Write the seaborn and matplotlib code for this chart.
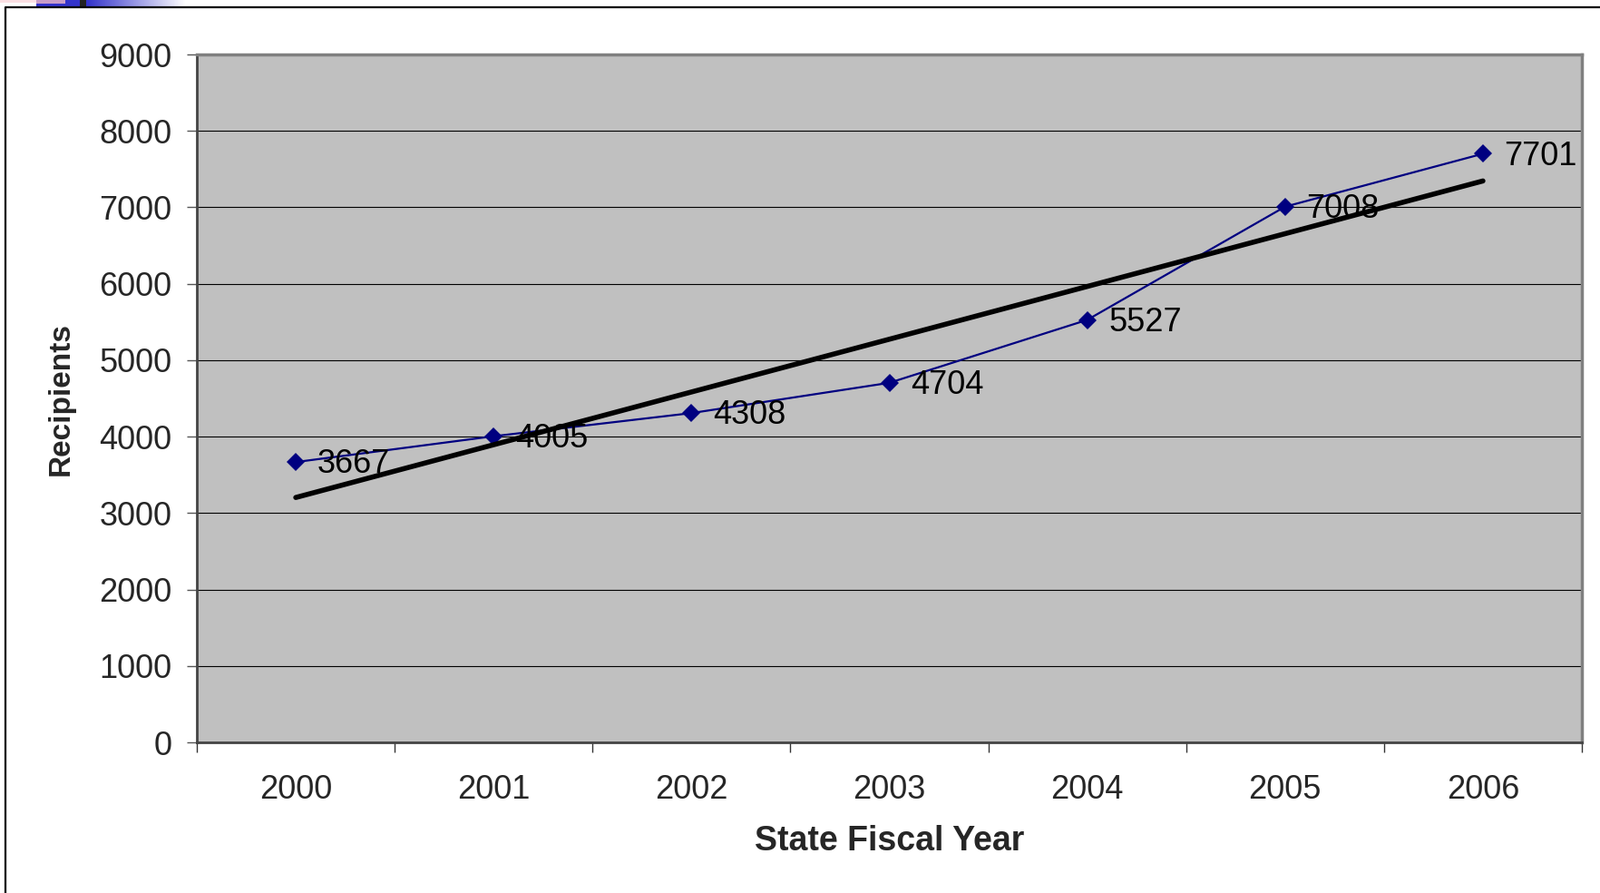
import matplotlib.pyplot as plt
import numpy as np
import pandas as pd
import seaborn as sns
from matplotlib.lines import Line2D
from matplotlib.patches import Rectangle

# chart data
years = [2000, 2001, 2002, 2003, 2004, 2005, 2006]
recipients = [3667, 4005, 4308, 4704, 5527, 7008, 7701]
y_ticks = [0, 1000, 2000, 3000, 4000, 5000, 6000, 7000, 8000, 9000]

df = pd.DataFrame({"year": years, "recipients": recipients})

sns.set_style("white")
plt.rcParams["font.family"] = ["Liberation Sans", "DejaVu Sans"]

fig = plt.figure(figsize=(17.64, 9.84), dpi=100)
ax = fig.add_axes([217 / 1764, 1 - 818 / 984, 1527 / 1764, 758 / 984])
ax.set_facecolor("#c0c0c0")

# gridlines
ax.set_yticks(y_ticks)
ax.yaxis.grid(True, color="black", linewidth=0.8)
ax.set_axisbelow(True)

# data series
sns.lineplot(data=df, x="year", y="recipients", ax=ax, color="#000080",
             linewidth=1.6, marker="D", markersize=10.5, markeredgewidth=0,
             zorder=3)

# linear trend line
sns.regplot(data=df, x="year", y="recipients", ax=ax, scatter=False, ci=None,
            line_kws={"color": "black", "linewidth": 4.0,
                      "solid_capstyle": "round", "zorder": 4})

for yr, val in zip(years, recipients):
    ax.annotate(str(val), (yr, val), xytext=(17, -2), textcoords="offset points",
                ha="left", va="center", fontsize=26, color="black", zorder=5)

ax.set_xlim(years[0] - 0.5, years[-1] + 0.5)
ax.set_ylim(y_ticks[0], y_ticks[-1])
ax.set_xticks(years)
ax.set_xticklabels([str(y) for y in years])
ax.set_xticks(np.arange(years[0] - 0.5, years[-1] + 1.0, 1.0), minor=True)

ax.tick_params(axis="x", which="major", length=0, pad=25, labelsize=26)
ax.tick_params(axis="x", which="minor", bottom=True, direction="out",
               length=8, width=1, color="#333333")
ax.tick_params(axis="y", which="major", left=True, direction="out",
               length=8, width=1, color="#555555", pad=12, labelsize=26)

for side in ["left", "bottom"]:
    ax.spines[side].set_color("#444444")
    ax.spines[side].set_linewidth(2)
for side in ["top", "right"]:
    ax.spines[side].set_color("#808080")
    ax.spines[side].set_linewidth(2.5)

ax.set_xlabel("State Fiscal Year", fontsize=27, fontweight="bold")
ax.set_ylabel("Recipients", fontsize=24, fontweight="bold")
ax.xaxis.set_label_coords(0.5, -0.144)
ax.xaxis.label.set_va("center")
ax.yaxis.set_label_coords(-0.098, 0.5)
ax.yaxis.label.set_va("center")
ax.yaxis.label.set_ha("center")

# slide frame and header strip
fig.add_artist(Line2D([6 / 1764, 6 / 1764, 1.0], [0.0, 1 - 8 / 984, 1 - 8 / 984],
                      color="black", linewidth=1.6))
H = 7 / 984
fig.add_artist(Rectangle((0, 1 - 3 / 984), 40 / 1764, 3 / 984, color="#fbe0e4", lw=0))
fig.add_artist(Rectangle((40 / 1764, 1 - H), 48 / 1764, H, color="#3333cc", lw=0))
fig.add_artist(Rectangle((40 / 1764, 1 - 4 / 984), 32 / 1764, 4 / 984, color="#c89cc8", lw=0))
fig.add_artist(Rectangle((88 / 1764, 1 - H), 7 / 1764, H, color="#222222", lw=0))
grad_ax = fig.add_axes([95 / 1764, 1 - H, 110 / 1764, H])
grad = np.linspace(0, 1, 100)[None, :]
grad_ax.imshow(grad, aspect="auto", cmap=sns.blend_palette(["#3333cc", "#ffffff"], as_cmap=True))
grad_ax.axis("off")

fig.savefig("out.png", dpi=100)
